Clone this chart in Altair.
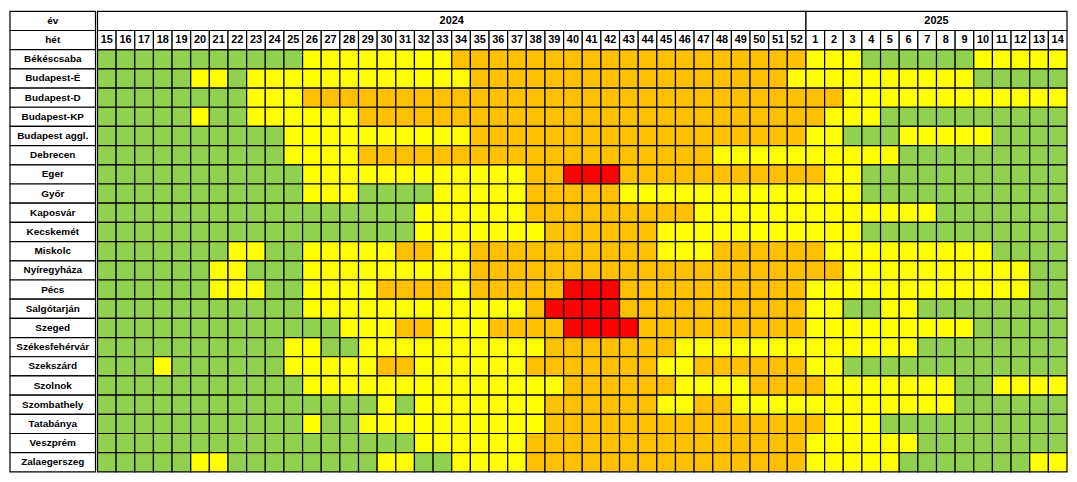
import altair as alt
import pandas as pd

years = ["2024", "2025"]
weeks_2024 = list(range(15, 53))
weeks_2025 = list(range(1, 15))
header_labels = ["év", "hét"]

cities = [
    "Békéscsaba", "Budapest-É", "Budapest-D", "Budapest-KP", "Budapest aggl.",
    "Debrecen", "Eger", "Győr", "Kaposvár", "Kecskemét", "Miskolc",
    "Nyíregyháza", "Pécs", "Salgótarján", "Szeged", "Székesfehérvár",
    "Szekszárd", "Szolnok", "Szombathely", "Tatabánya", "Veszprém", "Zalaegerszeg",
]

# G = green, Y = yellow, O = orange, R = red ; weeks 15..52 of 2024
levels_2024 = [
    "GGGGGGGGGGGYYYYYYYYOOOOOOOOOOOOOOOOOOO",  # Békéscsaba
    "GGGGGYYGYYYYYYYYYYYYOOOOOOOOOOOOOOOOOY",  # Budapest-É
    "GGGGGGGGYYYOOOOOOOOOOOOOOOOOOOOOOOOOOO",  # Budapest-D
    "GGGGGYGGYYYYYYOOOOOOOOOOOOOOOOOOOOOOOO",  # Budapest-KP
    "GGGGGGGGGGYYYYYYYYYYOOOOOOOOOOOOOOOOOO",  # Budapest aggl.
    "GGGGGGGGGGYYYYOOOOOOOOOOOOOOOOOOOYYYYY",  # Debrecen
    "GGGGGGGGGGGYYYYYYYYYYYYOORRROOOOOOOOOO",  # Eger
    "GGGGGGGGGGGYYYGGGGYYYYYOOOOOYYYYYYYYYY",  # Győr
    "GGGGGGGGGGGGGGGGGYYYYYYOOOOOOOOOYYYYYY",  # Kaposvár
    "GGGGGGGGGGGGGGGGGYYYYYYYOOOOOOYYYYYYYY",  # Kecskemét
    "GGGGGGGYYGGYYYYYOOYYOOOOOOOOOOYYYOOOOO",  # Miskolc
    "GGGGGGYYGGGYYYYYYYYYOOOOOOOOOOOOOOOOOO",  # Nyíregyháza
    "GGGGGGYYYGGYYYYOOOOYOOOOORRROOOOOOOOOO",  # Pécs
    "GGGGGGGGGGGYYYYYYYYYYYYORRRROOOOOOOOOO",  # Salgótarján
    "GGGGGGGGGGGGGYYYOOYYYOOOORRRROOOOOOOOO",  # Szeged
    "GGGGGGGGGGYYGGYYYYYYYYYYOOOOOOOYYYYYYY",  # Székesfehérvár
    "GGGYGGGGGGYYYYYOOYYYYYYOOOOOOOYYOOOOOO",  # Szekszárd
    "GGGGGGGGGGGYYYYYYYYYYYYYYOOOOOOYYYYOOO",  # Szolnok
    "GGGGGGGGGGGGGGGYGYYYYYYYOOOOOOYYOOYYYY",  # Szombathely
    "GGGGGGGGGGGYGGYYYYYYYYYYOOOOOOOOOOOOOO",  # Tatabánya
    "GGGGGGGGGGGGGGGGGYYYYYYOOOOOOOOOOOOOOO",  # Veszprém
    "GGGGGYYGGGGGGGGYYGGYYYYOOOOOOOOOOOOOOO",  # Zalaegerszeg
]
# weeks 1..14 of 2025
levels_2025 = [
    "YYYGGGGGGYYYYY",  # Békéscsaba
    "YYYYYYYYYGGGGG",  # Budapest-É
    "OOYYYYYYYYYYYY",  # Budapest-D
    "OYYYGGGGGGGGGG",  # Budapest-KP
    "YYGGGYYYYYGGGG",  # Budapest aggl.
    "YYYYYGGGGGGGGG",  # Debrecen
    "OYYGGGGGGGGGGG",  # Eger
    "YYYGGGGGGGGGGG",  # Győr
    "YYYYYYYGGGGGGG",  # Kaposvár
    "YYYGGGGGGGGGGG",  # Kecskemét
    "OYYYYYYYYYGGGG",  # Miskolc
    "OOYYYYYYYYYYGG",  # Nyíregyháza
    "YYYYYYYYYYYYGG",  # Pécs
    "YYGGYYGGGGGGGG",  # Salgótarján
    "YYYYYYYYYGGGGG",  # Szeged
    "YYYYYYGGGGGGGG",  # Székesfehérvár
    "YYGGGGGGGGGGGG",  # Szekszárd
    "OYYYYYYYGGYYYY",  # Szolnok
    "YYYYYYYYGGGGGG",  # Szombathely
    "OYYYGGGGGGGGGG",  # Tatabánya
    "YYYYYYGGGGGGGG",  # Veszprém
    "YYYYYGGGGGGGYY",  # Zalaegerszeg
]

level_codes = ["G", "Y", "O", "R"]
level_colors = ["#92D050", "#FFFF00", "#FFC000", "#FF0000"]

weeks_all = weeks_2024 + weeks_2025
n_cols = len(weeks_all)
row_order = header_labels + cities

cells = []
for city, a, b in zip(cities, levels_2024, levels_2025):
    for i, code in enumerate(a + b):
        cells.append({"row": city, "x0": i, "x1": i + 1, "level": code})
cells_df = pd.DataFrame(cells)

week_df = pd.DataFrame({
    "row": "hét",
    "x0": list(range(n_cols)),
    "x1": list(range(1, n_cols + 1)),
    "label": [str(w) for w in weeks_all],
})
year_counts = [len(weeks_2024), len(weeks_2025)]
year_starts = [0, len(weeks_2024)]
year_df = pd.DataFrame({
    "row": "év",
    "x0": year_starts,
    "x1": [s + c for s, c in zip(year_starts, year_counts)],
    "label": years,
})
header_df = pd.concat([week_df, year_df], ignore_index=True)
header_df["xm"] = (header_df["x0"] + header_df["x1"]) / 2

label_df = pd.DataFrame({"row": row_order, "col": "label"})

CELL_W = 18.75
ROW_H = 19.3
LABEL_W = 86
FONT = "Liberation Sans"
grid_w = n_cols * CELL_W
grid_h = len(row_order) * ROW_H

yscale = alt.Scale(domain=row_order, paddingInner=0, paddingOuter=0)
xscale = alt.Scale(domain=[0, n_cols], nice=False, zero=False)
Y = alt.Y("row:N", scale=yscale, axis=None)

cell_layer = alt.Chart(cells_df).mark_rect(stroke="black", strokeWidth=1.2).encode(
    x=alt.X("x0:Q", scale=xscale, axis=None),
    x2="x1:Q",
    y=Y,
    color=alt.Color("level:N", scale=alt.Scale(domain=level_codes, range=level_colors), legend=None),
)
header_rect = alt.Chart(header_df).mark_rect(fill="white", stroke="black", strokeWidth=1.2).encode(
    x=alt.X("x0:Q", scale=xscale, axis=None),
    x2="x1:Q",
    y=Y,
)
header_text = alt.Chart(header_df).mark_text(
    font=FONT, fontWeight="bold", fontSize=11, color="black", baseline="middle"
).encode(
    x=alt.X("xm:Q", scale=xscale, axis=None),
    y=Y,
    text="label:N",
)
right = alt.layer(cell_layer, header_rect, header_text).properties(width=grid_w, height=grid_h)

lx = alt.X("col:N", axis=None, scale=alt.Scale(paddingInner=0, paddingOuter=0))
left_rect = alt.Chart(label_df).mark_rect(fill="white", stroke="black", strokeWidth=1.2).encode(x=lx, y=Y)
left_text = alt.Chart(label_df).mark_text(
    font=FONT, fontWeight="bold", fontSize=10, color="black", baseline="middle"
).encode(x=lx, y=Y, text="row:N")
left = alt.layer(left_rect, left_text).properties(width=LABEL_W, height=grid_h)

chart = alt.hconcat(left, right, spacing=0).configure_view(stroke=None).properties(padding=1)

chart.save("out.html", embed_options={"renderer": "svg", "actions": False})
